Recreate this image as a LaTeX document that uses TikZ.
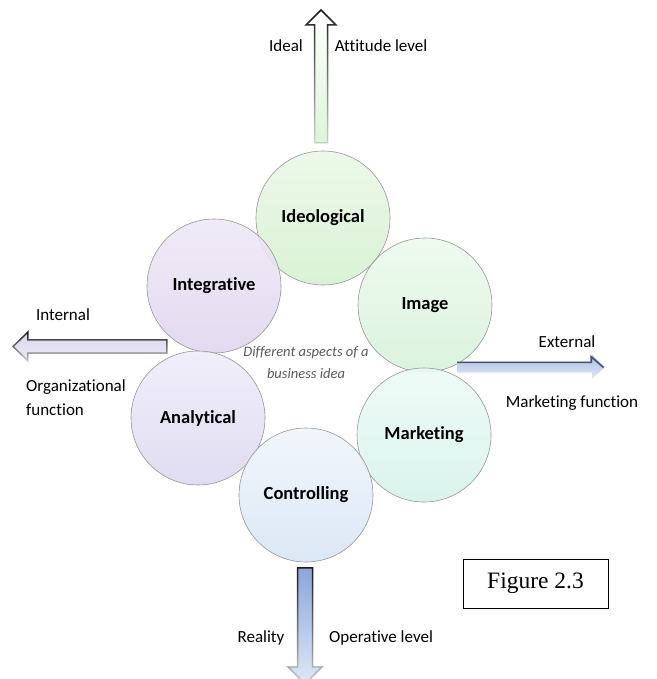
\documentclass[tikz,border=0pt]{standalone}
\usepackage{fontspec}
\setmainfont[Ligatures=NoCommon]{Carlito}
\newfontfamily\figfont{Liberation Serif}
\usetikzlibrary{fadings}
\definecolor{ringedge}{RGB}{150,150,150}
\definecolor{ideotop}{RGB}{234,248,230}
\definecolor{ideobot}{RGB}{212,240,206}
\definecolor{integtop}{RGB}{238,232,246}
\definecolor{integbot}{RGB}{222,214,238}
\definecolor{imagetop}{RGB}{236,249,236}
\definecolor{imagebot}{RGB}{214,242,218}
\definecolor{analyttop}{RGB}{238,236,249}
\definecolor{analytbot}{RGB}{220,216,240}
\definecolor{controltop}{RGB}{240,245,251}
\definecolor{controlbot}{RGB}{214,228,244}
\definecolor{markettop}{RGB}{236,250,246}
\definecolor{marketbot}{RGB}{212,243,234}
\definecolor{upmid}{RGB}{222,232,246}
\definecolor{upbot}{RGB}{222,245,216}
\definecolor{lefttop}{RGB}{218,214,236}
\definecolor{leftbot}{RGB}{236,234,248}
\definecolor{rightedge}{RGB}{70,84,112}
\definecolor{righttop}{RGB}{170,190,226}
\definecolor{rightbot}{RGB}{226,234,247}
\definecolor{downtop}{RGB}{140,166,218}
\definecolor{downbot}{RGB}{224,232,247}
\tikzfading[name=fadedown, top color=transparent!0, bottom color=transparent!85]

\begin{document}
\begin{tikzpicture}[x=1pt, y=1pt,
    bubble/.style={circle, minimum size=134pt, inner sep=0pt, draw=ringedge, line width=0.6pt,
      font=\fontsize{18.5}{22}\selectfont\bfseries, fill opacity=0.88, text opacity=1},
    sidelabel/.style={font=\fontsize{17}{24}\selectfont, inner sep=0pt},
    rim/.style={draw=black!90, line width=1.5pt, line join=miter, path fading=fadedown}
  ]
  \useasboundingbox (0,0) rectangle (656,-679);

  % six aspects around the ring
  \node[bubble, top color=ideotop, bottom color=ideobot] (ideo) at (323,-218) {Ideological};
  \node[bubble, top color=integtop, bottom color=integbot] (integ) at (214,-286) {Integrative};
  \node[bubble, top color=imagetop, bottom color=imagebot] (image) at (425,-305) {Image};
  \node[bubble, top color=analyttop, bottom color=analytbot] (analyt) at (198,-418) {Analytical};
  \node[bubble, top color=markettop, bottom color=marketbot] (market) at (424,-435) {Marketing};
  \node[bubble, top color=controltop, bottom color=controlbot] (control) at (306,-495) {Controlling};

  \node[font=\fontsize{14.5}{22}\selectfont\itshape, text=black!65, align=center] (aspects) at (306,-363)
    {Different aspects of a\\business idea};

  % up: ideal
  \shade[top color=white, middle color=upmid, bottom color=upbot]
    (314.5,-143) -- (314.5,-25) -- (306,-25) -- (321,-10) -- (336,-25) -- (327.5,-25) -- (327.5,-143) -- cycle;
  \draw[rim] (314.5,-143) -- (314.5,-25) -- (306,-25) -- (321,-10) -- (336,-25) -- (327.5,-25) -- (327.5,-143) -- cycle;

  % left: internal
  \shade[top color=lefttop, bottom color=leftbot]
    (167,-340) -- (28,-340) -- (28,-332) -- (13,-346.5) -- (28,-361) -- (28,-353) -- (167,-353) -- cycle;
  \draw[rim] (167,-340) -- (28,-340) -- (28,-332) -- (13,-346.5) -- (28,-361) -- (28,-353) -- (167,-353) -- cycle;

  % right: external
  \shade[top color=righttop, bottom color=rightbot]
    (457,-361.5) -- (592,-361.5) -- (592,-355) -- (605,-367) -- (592,-379) -- (592,-372.5) -- (457,-372.5) -- cycle;
  \draw[rightedge, line width=1.6pt, line join=miter] (457,-362.3) -- (591.2,-362.3) -- (591.2,-356.8) -- (603.5,-367.5);

  % down: reality
  \shade[top color=downtop, bottom color=downbot]
    (297.5,-568) -- (297.5,-667) -- (288,-667) -- (305,-684) -- (322,-667) -- (312.5,-667) -- (312.5,-568) -- cycle;
  \draw[rim] (297.5,-568) -- (297.5,-667) -- (288,-667) -- (305,-684) -- (322,-667) -- (312.5,-667) -- (312.5,-568) -- cycle;

  % axis labels
  \node[sidelabel] (ideal) at (286,-46) {Ideal};
  \node[sidelabel] (attitude) at (381,-46) {Attitude level};
  \node[sidelabel] (internal) at (63,-315) {Internal};
  \node[sidelabel, anchor=west, align=left] (organizational) at (26,-398) {Organizational\\function};
  \node[sidelabel] (external) at (567,-342) {External};
  \node[sidelabel] (marketingfn) at (572,-403) {Marketing function};
  \node[sidelabel] (reality) at (261,-638) {Reality};
  \node[sidelabel] (operative) at (381,-638) {Operative level};

  \node[draw, line width=1pt, minimum width=145pt, minimum height=49pt, font=\figfont\fontsize{23.5}{26}\selectfont]
    (figure) at (535.5,-583.5) {Figure 2.3};
\end{tikzpicture}
\end{document}
